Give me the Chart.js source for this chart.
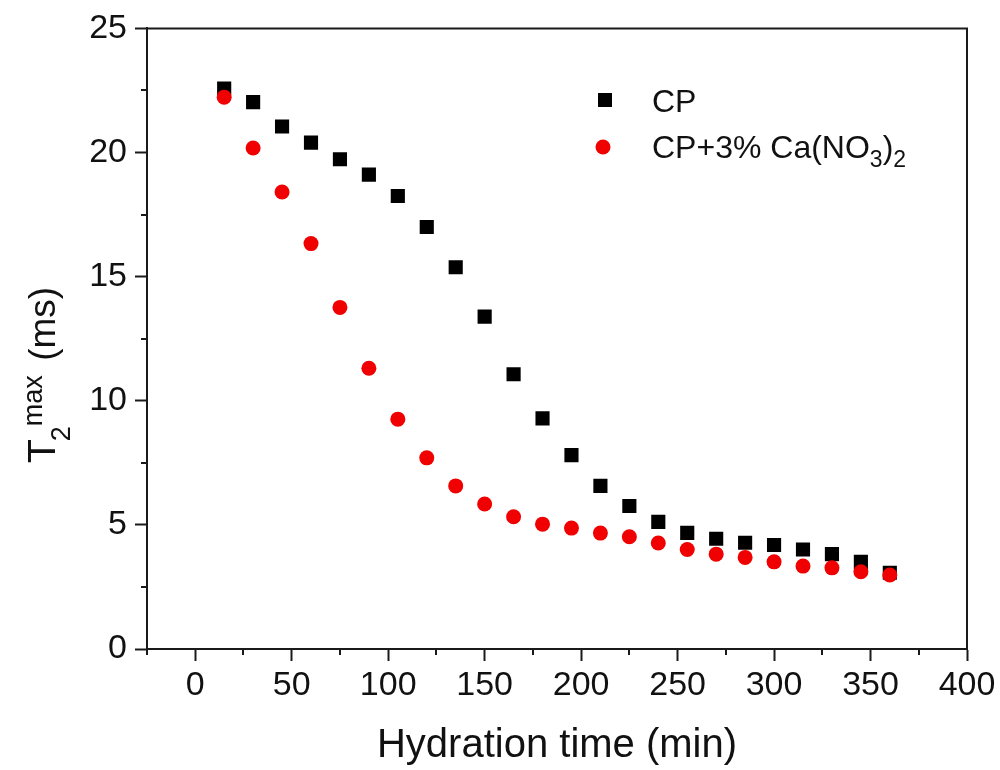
<!DOCTYPE html>
<html>
<head>
<meta charset="utf-8">
<script src="https://cdn.jsdelivr.net/npm/chart.js@4.4.0/dist/chart.umd.min.js"></script>
<style>
  html, body { margin: 0; padding: 0; background: #fff; }
  #chart { display: block; }
</style>
</head>
<body>
<canvas id="chart" width="1000" height="770"></canvas>
<script>
// hydration time (min)
const times = [15, 30, 45, 60, 75, 90, 105, 120, 135, 150, 165, 180,
               195, 210, 225, 240, 255, 270, 285, 300, 315, 330, 345, 360];
// T2 max (ms)
const cpValues = [22.58, 22.03, 21.05, 20.40, 19.73, 19.11, 18.25, 17.00, 15.38, 13.39, 11.07, 9.29,
                  7.81, 6.57, 5.76, 5.12, 4.68, 4.44, 4.28, 4.19, 4.01, 3.82, 3.51, 3.07];
const caValues = [22.23, 20.18, 18.41, 16.33, 13.76, 11.31, 9.26, 7.70, 6.57, 5.84, 5.33, 5.03,
                  4.87, 4.67, 4.52, 4.27, 4.01, 3.82, 3.69, 3.51, 3.34, 3.27, 3.11, 2.98];

const xTicks = [0, 50, 100, 150, 200, 250, 300, 350, 400];
const yTicks = [0, 5, 10, 15, 20, 25];
const xMinorTicks = [-25, 25, 75, 125, 175, 225, 275, 325, 375];
const yMinorTicks = [2.5, 7.5, 12.5, 17.5, 22.5];

const FONT = '"Liberation Sans", Arial, sans-serif';
const AXIS_COLOR = '#1a1a1a';
const RED = 'rgb(240, 0, 0)';

// draw a run of text pieces (for sub/superscripts), returns end x
function drawParts(ctx, parts, x, y) {
    parts.forEach(p => {
        ctx.font = p.size + 'px ' + FONT;
        ctx.fillText(p.t, x, y + (p.dy || 0));
        x += ctx.measureText(p.t).width + (p.gap || 0);
    });
    return x;
}

const extras = {
    id: 'extras',
    afterDraw(chart) {
        const ctx = chart.ctx;
        const area = chart.chartArea;
        const xs = chart.scales.x;
        const ys = chart.scales.y;

        ctx.save();
        ctx.strokeStyle = AXIS_COLOR;
        ctx.lineWidth = 2;

        // box on top and right
        ctx.beginPath();
        ctx.moveTo(area.left, area.top);
        ctx.lineTo(area.right, area.top);
        ctx.lineTo(area.right, area.bottom);
        ctx.stroke();

        // minor ticks
        ctx.beginPath();
        xMinorTicks.forEach(v => {
            const px = Math.round(xs.getPixelForValue(v));
            ctx.moveTo(px, area.bottom);
            ctx.lineTo(px, area.bottom + 6);
        });
        yMinorTicks.forEach(v => {
            const py = Math.round(ys.getPixelForValue(v));
            ctx.moveTo(area.left, py);
            ctx.lineTo(area.left - 6, py);
        });
        ctx.stroke();

        // y axis title, rotated
        ctx.fillStyle = '#111';
        ctx.textBaseline = 'alphabetic';
        ctx.textAlign = 'left';
        ctx.save();
        ctx.translate(55, 463);
        ctx.rotate(-Math.PI / 2);
        drawParts(ctx, [
            { t: 'T', size: 39, gap: -2 },
            { t: '2', size: 27, dy: 15 },
            { t: 'max', size: 27, dy: -13, gap: 4 },
            { t: ' (ms)', size: 37 }
        ], 0, 0);
        ctx.restore();

        // legend
        ctx.fillStyle = '#000';
        ctx.fillRect(605 - 7, 100 - 7, 14, 14);
        ctx.fillStyle = RED;
        ctx.beginPath();
        ctx.arc(603, 147, 7.5, 0, Math.PI * 2);
        ctx.fill();

        ctx.fillStyle = '#111';
        drawParts(ctx, [{ t: 'CP', size: 32 }], 652, 112);
        drawParts(ctx, [
            { t: 'CP+3% Ca(NO', size: 32 },
            { t: '3', size: 23, dy: 9 },
            { t: ')', size: 32 },
            { t: '2', size: 23, dy: 9 }
        ], 652, 158);

        ctx.restore();
    }
};

new Chart(document.getElementById('chart'), {
    type: 'scatter',
    data: {
        datasets: [
            {
                label: 'CP',
                data: times.map((t, i) => ({ x: t, y: cpValues[i] })),
                pointStyle: 'rect',
                pointRadius: 10,
                backgroundColor: '#000',
                borderColor: '#000',
                borderWidth: 0,
                order: 2
            },
            {
                label: 'CP+3% Ca(NO3)2',
                data: times.map((t, i) => ({ x: t, y: caValues[i] })),
                pointStyle: 'circle',
                pointRadius: 7.5,
                backgroundColor: RED,
                borderColor: RED,
                borderWidth: 0,
                order: 1
            }
        ]
    },
    options: {
        responsive: false,
        animation: false,
        layout: { padding: { left: 0, top: 28, right: 33, bottom: 0 } },
        plugins: {
            legend: { display: false },
            tooltip: { enabled: false }
        },
        scales: {
            x: {
                type: 'linear',
                min: -25,
                max: 400,
                afterBuildTicks: scale => { scale.ticks = xTicks.map(v => ({ value: v })); },
                afterFit: scale => { scale.height = 121; },
                border: { display: true, color: AXIS_COLOR, width: 2 },
                grid: { drawOnChartArea: false, drawTicks: true, tickLength: 12, tickWidth: 2, tickColor: AXIS_COLOR },
                ticks: { color: '#111', font: { family: FONT, size: 34 }, padding: 4, maxRotation: 0 },
                title: {
                    display: true,
                    text: 'Hydration time (min)',
                    color: '#111',
                    font: { family: FONT, size: 40 },
                    padding: 0
                }
            },
            y: {
                type: 'linear',
                min: 0,
                max: 25,
                afterBuildTicks: scale => { scale.ticks = yTicks.map(v => ({ value: v })); },
                afterFit: scale => { scale.width = 147; },
                border: { display: true, color: AXIS_COLOR, width: 2 },
                grid: { drawOnChartArea: false, drawTicks: true, tickLength: 12, tickWidth: 2, tickColor: AXIS_COLOR },
                ticks: { color: '#111', font: { family: FONT, size: 34 }, padding: 8 }
            }
        }
    },
    plugins: [extras]
});
</script>
</body>
</html>
